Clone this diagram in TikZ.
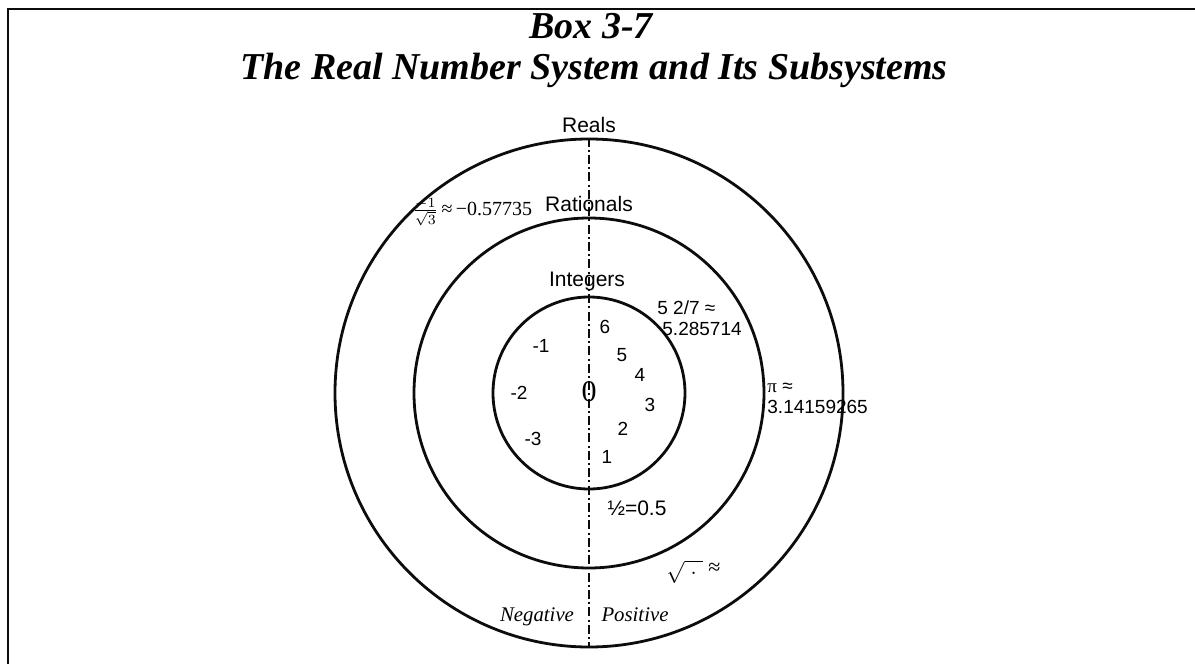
\documentclass[tikz,border=0pt]{standalone}
\usepackage{fontspec}
\setmainfont{Liberation Serif}
\setsansfont{Liberation Sans}
\usetikzlibrary{positioning}
\definecolor{InkBlack}{RGB}{12,12,12}
\tikzset{
  ring/.style={circle,draw=InkBlack,line width=1.4pt,inner sep=0pt},
  divider/.style={draw=InkBlack,line width=0.8pt,
    dash pattern=on 4.5pt off 1.6pt on 1pt off 1.6pt},
  frameline/.style={draw=InkBlack,line width=1.2pt},
  setname/.style={font=\sffamily\fontsize{10.5}{12}\selectfont,inner sep=1pt},
  num/.style={font=\sffamily\fontsize{9.5}{11}\selectfont,inner sep=0pt},
  approx/.style={font=\sffamily\fontsize{9.5}{10.5}\selectfont,
    align=left,inner sep=0pt,anchor=west},
  side/.style={font=\itshape\fontsize{10.4}{12}\selectfont,inner sep=0pt,anchor=base},
  heading/.style={font=\bfseries\itshape\fontsize{19}{22}\selectfont,inner sep=0pt}
}

\begin{document}
\begin{tikzpicture}[x=0.5pt,y=-0.5pt]
  \useasboundingbox (0,0) rectangle (1195,664);
  \coordinate (corner) at (8,9);
  \coordinate (leftend) at (8,664);
  \coordinate (topend) at (1195,9);
  \draw[frameline] (leftend) -- (corner) -- (topend);

  \node[heading] (boxno) at (591,26) {Box 3-7};
  \node[heading] (title) at (594,70) {The Real Number System and Its Subsystems};

  % the three sets
  \node[ring,minimum size=254pt] (reals) at (589,393) {};
  \node[ring,minimum size=175pt] (rationals) at (589,393) {};
  \node[ring,minimum size=96pt] (integers) at (589,393) {};
  \draw[divider] (reals.north) -- (reals.south);

  \node[setname,above=1pt of reals.north] (realsname) {Reals};
  \node[setname,above=1pt of rationals.north] (rationalsname) {Rationals};
  \node[setname,above=1pt of integers.north,xshift=-1pt] (integersname) {Integers};

  % integers
  \node[font=\fontsize{15}{16}\selectfont,inner sep=0pt] (zero) at (589,392) {0};
  \node[num] (one) at (607,457) {1};
  \node[num] (two) at (623,429) {2};
  \node[num] (three) at (650,405) {3};
  \node[num] (four) at (640,375) {4};
  \node[num] (five) at (622,355) {5};
  \node[num] (six) at (605,327) {6};
  \node[num] (mone) at (541,346) {-1};
  \node[num] (mtwo) at (519,393) {-2};
  \node[num] (mthree) at (533,439) {-3};

  % rationals and irrationals
  \node[approx] (fivetwo) at (657,318) {5 2/7 ≈\\\hspace*{2.5pt}5.285714};
  \node[font=\sffamily\fontsize{10.5}{12}\selectfont,inner sep=0pt] (half) at (637,508) {½=0.5};
  \node[approx] (pi) at (767,398) {{\rmfamily π} ≈\\3.14159265};
  \node[anchor=west,inner sep=0pt,font=\fontsize{11}{12}\selectfont] (root) at (666,572) {$\sqrt{\;.\;}$\ ≈};
  \node[anchor=west,inner sep=0pt,font=\fontsize{10}{12}\selectfont] (third) at (412,212) {$\frac{-1}{\sqrt{3}}$\,≈\,−0.57735};

  \node[side] (negative) at (537,621) {Negative};
  \node[side] (positive) at (635,621) {Positive};
\end{tikzpicture}
\end{document}
